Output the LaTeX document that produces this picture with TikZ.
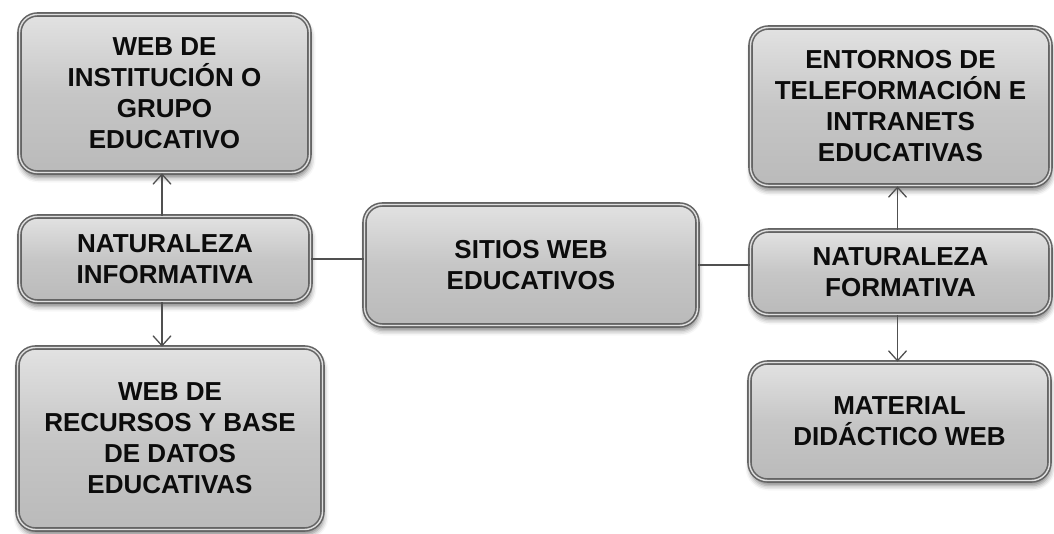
\documentclass[tikz,border=0pt]{standalone}
\usepackage{fontspec}
\setmainfont{Liberation Sans}
\usetikzlibrary{arrows.meta,shadows.blur}
\definecolor{boxborder}{HTML}{646464}
\definecolor{boxtop}{HTML}{E2E2E2}
\definecolor{boxmid}{HTML}{C6C6C6}
\definecolor{boxbot}{HTML}{BABABA}
\definecolor{linkcol}{HTML}{505050}
\definecolor{txtcol}{HTML}{0C0C0C}
\tikzset{
  box/.style={rounded corners=18pt, draw=boxborder, line width=1.6pt,
    double=white!75!gray, double distance=1.4pt,
    top color=boxtop, bottom color=boxbot, middle color=boxmid,
    blur shadow={shadow xshift=1pt, shadow yshift=-5pt, shadow blur radius=5pt, shadow opacity=50},
    font=\bfseries\fontsize{26}{31}\selectfont, text=txtcol, align=center, inner sep=0pt},
  link/.style={draw=linkcol, line width=1.3pt},
  arr/.style={link, -{Straight Barb[length=10pt,width=18pt,line width=1.3pt]}}
}
\begin{document}
\begin{tikzpicture}[x=1pt,y=-1pt]
\useasboundingbox (0,0) rectangle (1054,534);
\node[box, minimum width=290pt, minimum height=158pt] (A) at (164.5,93.5) {WEB DE\\INSTITUCIÓN O\\GRUPO\\EDUCATIVO};
\node[box, minimum width=291pt, minimum height=85pt] (B) at (165,259) {NATURALEZA\\INFORMATIVA};
\node[box, minimum width=305pt, minimum height=182pt] (C) at (170,438.5) {WEB DE\\RECURSOS Y BASE\\DE DATOS\\EDUCATIVAS};
\node[box, minimum width=333pt, minimum height=121pt] (D) at (531,265) {SITIOS WEB\\EDUCATIVOS};
\node[box, minimum width=300pt, minimum height=158pt] (F) at (900.5,106.5) {ENTORNOS DE\\TELEFORMACIÓN E\\INTRANETS\\EDUCATIVAS};
\node[box, minimum width=300pt, minimum height=84pt] (E) at (900.5,272.5) {NATURALEZA\\FORMATIVA};
\node[box, minimum width=300pt, minimum height=118pt] (G) at (899.5,421.5) {MATERIAL\\DIDÁCTICO WEB};
\draw[link] (B.east) -- (B.east -| D.west);
\draw[link] (D.east) -- (D.east -| E.west);
\draw[arr] ([xshift=-3pt]B.north) -- ([xshift=-3pt]B.north |- A.south);
\draw[arr] ([xshift=-3pt]B.south) -- ([xshift=-3pt]B.south |- C.north);
\draw[arr] ([xshift=-3pt]E.north) -- ([xshift=-3pt]E.north |- F.south);
\draw[arr] ([xshift=-3pt]E.south) -- ([xshift=-3pt]E.south |- G.north);
\end{tikzpicture}
\end{document}
